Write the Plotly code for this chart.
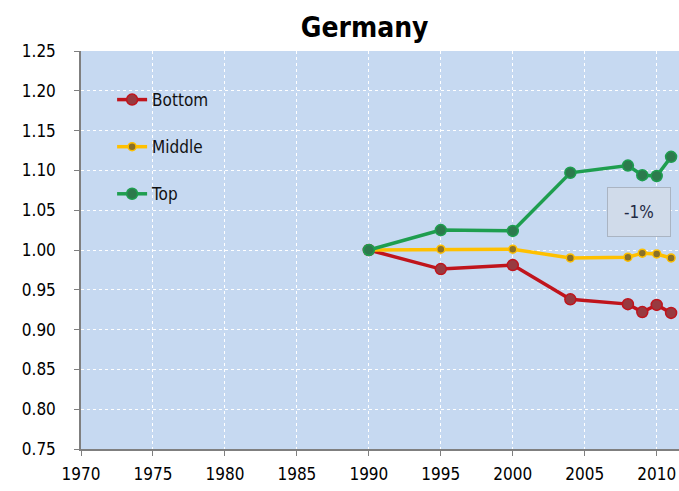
import plotly.graph_objects as go

years = [1990, 1995, 2000, 2004, 2008, 2009, 2010, 2011]
bottom = [1.000, 0.976, 0.981, 0.938, 0.932, 0.922, 0.931, 0.921]
middle = [1.000, 1.001, 1.001, 0.990, 0.991, 0.996, 0.995, 0.990]
top = [1.000, 1.025, 1.024, 1.097, 1.106, 1.094, 1.093, 1.117]

x_ticks = [1970, 1975, 1980, 1985, 1990, 1995, 2000, 2005, 2010]
y_ticks = [0.75, 0.80, 0.85, 0.90, 0.95, 1.00, 1.05, 1.10, 1.15, 1.20, 1.25]

FONT = "Liberation Sans Narrow, Arial Narrow, DejaVu Sans Condensed, sans-serif"

series = [
    ("Bottom", bottom, "#c0141c", "#983a40", 11),
    ("Middle", middle, "#ffc000", "#8a7028", 8),
    ("Top", top, "#1e9e4f", "#2c7a4c", 11),
]

fig = go.Figure()
for name, vals, lc, mc, ms in series:
    fig.add_trace(go.Scatter(
        x=years, y=vals, name=name, mode="lines+markers",
        legendgroup=name,
        line=dict(color=lc, width=3.5),
        marker=dict(color=mc, size=ms, line=dict(color=lc, width=1.5)),
    ))

fig.add_annotation(
    x=2008.8, y=1.048, xref="x", yref="y", text="-1%", showarrow=False,
    font=dict(family=FONT, size=17, color="#1f2a44"),
    bgcolor="#d0dbea", bordercolor="#aab4c2", borderwidth=1,
    width=60, height=46,
)

fig.update_layout(
    width=679, height=491,
    margin=dict(l=81, r=0, t=51, b=42),
    paper_bgcolor="white", plot_bgcolor="#c6d9f1",
    title=dict(text="<b>Germany</b>", x=0.537, xanchor="center", y=0.945, yanchor="middle",
               font=dict(family=FONT, size=28, color="black")),
    font=dict(family=FONT, size=16, color="black"),
    showlegend=True,
    legend=dict(x=0.052, y=0.922, xanchor="left", yanchor="top",
                bgcolor="rgba(0,0,0,0)", tracegroupgap=22,
                font=dict(family=FONT, size=17, color="#111111"),
                itemwidth=30),
    xaxis=dict(range=[1970, 2011.55], tickvals=x_ticks, ticks="outside", ticklen=5,
               tickcolor="#7f7f7f", showline=True, linecolor="#7f7f7f", linewidth=1.5,
               showgrid=True, gridcolor="white", griddash="dot", gridwidth=1.2,
               zeroline=False, automargin=False, ticklabelstandoff=4,
               tickfont=dict(family=FONT, size=17)),
    yaxis=dict(range=[0.75, 1.25], tickvals=y_ticks, tickformat=".2f", ticks="outside",
               ticklen=5, tickcolor="#7f7f7f", showline=True, linecolor="#7f7f7f",
               linewidth=1.5, showgrid=True, gridcolor="white", griddash="dot",
               gridwidth=1.2, zeroline=False, automargin=False, ticklabelstandoff=15,
               tickfont=dict(family=FONT, size=17)),
)

fig.write_html("out.html", config={"displayModeBar": False},
               post_script="document.body.style.margin='0';document.body.style.overflow='hidden';")
